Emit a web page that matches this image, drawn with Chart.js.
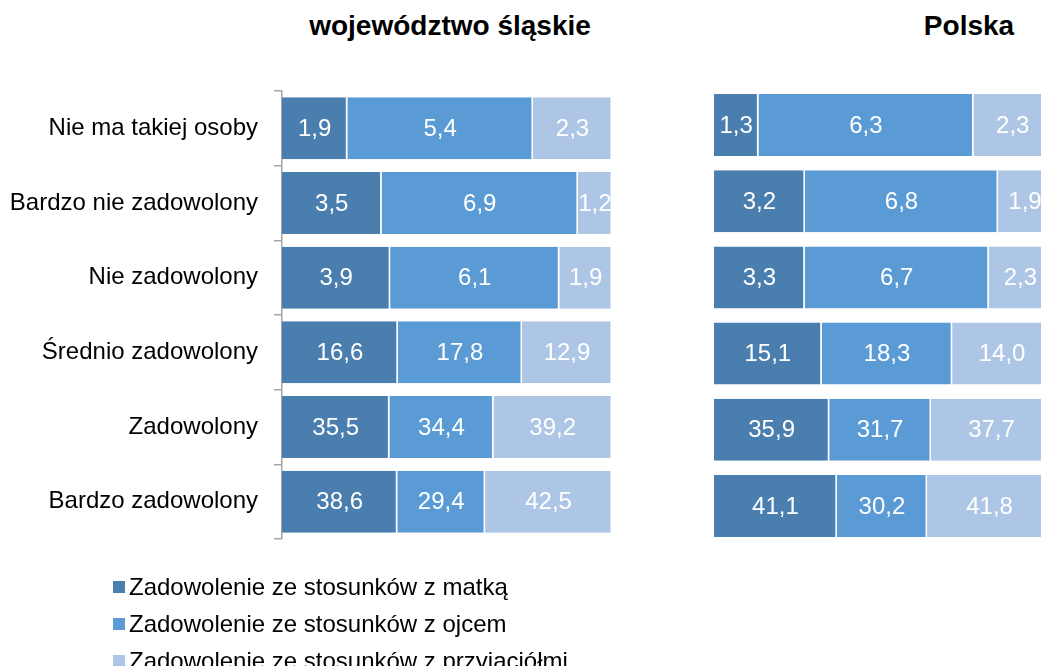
<!DOCTYPE html>
<html lang="pl">
<head>
    <meta charset="UTF-8">
    <title>Zadowolenie ze stosunków</title>
    <style>
        body {
            margin: 0;
            width: 1041px;
            height: 666px;
            overflow: hidden;
            background: #fff;
            position: relative;
            font-family: "Liberation Sans", Arial, sans-serif;
        }
        canvas { position: absolute; top: 0; }
        #chartSl { left: 0; }
        #chartPl { left: 704px; }
        .tytul {
            position: absolute;
            top: 12px;
            font-size: 28px;
            line-height: 28px;
            font-weight: bold;
            color: #000;
            white-space: nowrap;
            transform: translateX(-50%);
        }
        .legenda {
            position: absolute;
            left: 113px;
            padding-left: 16px;
            font-size: 24px;
            line-height: 24px;
            color: #000;
            white-space: nowrap;
        }
        .legenda i {
            position: absolute;
            left: 0;
            top: 6px;
            width: 12px;
            height: 12px;
        }
    </style>
</head>
<body>
    <div class="tytul" style="left:450px">województwo śląskie</div>
    <div class="tytul" style="left:969px">Polska</div>
    <canvas id="chartSl" width="630" height="666"></canvas>
    <canvas id="chartPl" width="360" height="666"></canvas>
    <div id="legenda"></div>
    <script src="https://cdn.jsdelivr.net/npm/chart.js"></script>
    <script>
        const kategorie = ['Nie ma takiej osoby', 'Bardzo nie zadowolony', 'Nie zadowolony',
            'Średnio zadowolony', 'Zadowolony', 'Bardzo zadowolony'];
        const serie = ['Zadowolenie ze stosunków z matką', 'Zadowolenie ze stosunków z ojcem',
            'Zadowolenie ze stosunków z przyjaciółmi'];
        const kolory = ['#4a7eae', '#5b9bd5', '#adc6e6'];

        // województwo śląskie
        const slaskieMatka = [1.9, 3.5, 3.9, 16.6, 35.5, 38.6];
        const slaskieOjciec = [5.4, 6.9, 6.1, 17.8, 34.4, 29.4];
        const slaskiePrzyjaciele = [2.3, 1.2, 1.9, 12.9, 39.2, 42.5];

        // Polska
        const polskaMatka = [1.3, 3.2, 3.3, 15.1, 35.9, 41.1];
        const polskaOjciec = [6.3, 6.8, 6.7, 18.3, 31.7, 30.2];
        const polskaPrzyjaciele = [2.3, 1.9, 2.3, 14.0, 37.7, 41.8];

        const czcionka = '"Liberation Sans", Arial, sans-serif';

        // slupki 100% - kazdy wiersz sumuje sie do 100
        function zbuduj(wiersze) {
            return wiersze.map((wartosci, s) => ({
                label: serie[s],
                surowe: wartosci,
                data: wartosci.map((v, i) => {
                    const suma = wiersze.reduce((acc, w) => acc + w[i], 0);
                    return v / suma * 100;
                }),
                backgroundColor: kolory[s],
                borderColor: '#fff',
                borderWidth: { top: 0, bottom: 0, left: 0, right: 1.5 },
                borderSkipped: false
            }));
        }

        const etykiety = {
            id: 'etykiety',
            afterDatasetsDraw(chart) {
                const ctx = chart.ctx;
                ctx.save();
                ctx.font = '24px ' + czcionka;
                ctx.fillStyle = '#fff';
                ctx.textAlign = 'center';
                ctx.textBaseline = 'middle';
                chart.data.datasets.forEach((ds, d) => {
                    chart.getDatasetMeta(d).data.forEach((bar, i) => {
                        const p = bar.getProps(['x', 'base', 'y'], true);
                        ctx.fillText(ds.surowe[i].toFixed(1).replace('.', ','), (p.x + p.base) / 2, p.y + 1);
                    });
                });
                ctx.restore();
            }
        };

        function opcje(zOsia, padding) {
            return {
                indexAxis: 'y',
                responsive: false,
                animation: false,
                layout: { padding: padding },
                plugins: { legend: { display: false }, tooltip: { enabled: false } },
                scales: {
                    x: { stacked: true, min: 0, max: 100, display: false },
                    y: zOsia ? {
                        stacked: true,
                        border: { display: true, color: '#a6a6a6', width: 1.5 },
                        grid: { display: true, drawOnChartArea: false, drawTicks: true, tickLength: 8,
                                color: '#a6a6a6', lineWidth: 1.5, offset: true },
                        ticks: { color: '#000', font: { size: 24, family: czcionka }, padding: 16 },
                        afterFit: s => { s.width = 272; }
                    } : { stacked: true, display: false }
                },
                datasets: { bar: { categoryPercentage: 1 } }
            };
        }

        const dsSl = zbuduj([slaskieMatka, slaskieOjciec, slaskiePrzyjaciele]);
        dsSl.forEach(d => d.barPercentage = 0.83);
        new Chart(document.getElementById('chartSl'), {
            type: 'bar',
            data: { labels: kategorie, datasets: dsSl },
            options: opcje(true, { left: 10, right: 18, top: 91, bottom: 127 }),
            plugins: [etykiety]
        });

        const dsPl = zbuduj([polskaMatka, polskaOjciec, polskaPrzyjaciele]);
        dsPl.forEach(d => d.barPercentage = 0.814);
        new Chart(document.getElementById('chartPl'), {
            type: 'bar',
            data: { labels: kategorie, datasets: dsPl },
            options: opcje(false, { left: 10, right: 12, top: 87, bottom: 122 }),
            plugins: [etykiety]
        });

        // legenda pod wykresem
        const leg = document.getElementById('legenda');
        serie.forEach((nazwa, s) => {
            const el = document.createElement('div');
            el.className = 'legenda';
            el.style.top = (575 + 37 * s) + 'px';
            el.innerHTML = '<i style="background:' + kolory[s] + '"></i>';
            el.appendChild(document.createTextNode(nazwa));
            leg.appendChild(el);
        });
    </script>
</body>
</html>
